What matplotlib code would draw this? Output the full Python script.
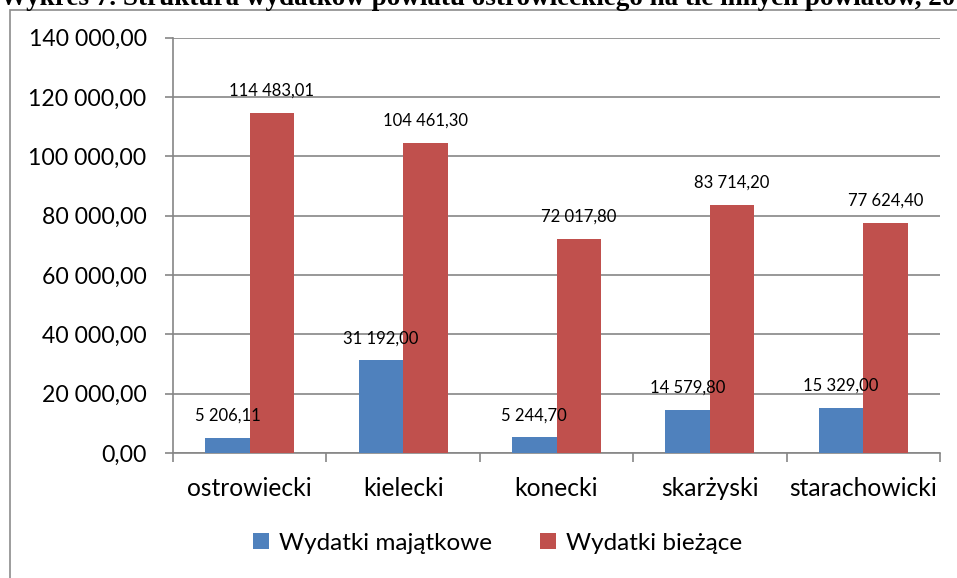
import matplotlib.pyplot as plt
from matplotlib.patches import Rectangle
import numpy as np

# Dane do wykresu
powiaty = ['ostrowiecki', 'kielecki', 'konecki', 'skarżyski', 'starachowicki']
majatkowe = [5206.11, 31192.00, 5244.70, 14579.80, 15329.00]
biezace = [114483.01, 104461.30, 72017.80, 83714.20, 77624.40]
y_ticks = [0, 20000, 40000, 60000, 80000, 100000, 120000, 140000]

blue = '#4F81BD'
red = '#C0504D'
grey = '#868686'


def pl_format(v):
    # polski zapis liczb: spacja jako separator tysięcy, przecinek dziesiętny
    s = f"{v:,.2f}"
    return s.replace(',', ' ').replace('.', ',')


plt.rcParams['font.family'] = ['Lato', 'DejaVu Sans']

fig = plt.figure(figsize=(9.57, 5.78), dpi=100)
ax = fig.add_axes([173 / 957, 1 - 453 / 578, (940 - 173) / 957, (453 - 37.5) / 578])

x = np.arange(len(powiaty))
w = 0.29
b1 = ax.bar(x - w / 2, majatkowe, w, color=blue, label='Wydatki majątkowe', zorder=3)
b2 = ax.bar(x + w / 2, biezace, w, color=red, label='Wydatki bieżące', zorder=3)

for bars in (b1, b2):
    for rect in bars:
        h = rect.get_height()
        ax.annotate(pl_format(h), (rect.get_x() + rect.get_width() / 2, h),
                    xytext=(0, 16), textcoords='offset points',
                    ha='center', va='center', fontsize=12, zorder=4)

ax.set_xlim(-0.5, len(powiaty) - 0.5)
ax.set_ylim(0, 140000)
ax.set_yticks(y_ticks)
ax.set_yticklabels([pl_format(t) for t in y_ticks])
ax.set_xticks(x)
ax.set_xticklabels(powiaty)
ax.set_xticks(np.arange(len(powiaty) + 1) - 0.5, minor=True)

ax.tick_params(axis='x', which='major', length=0, pad=17, labelsize=17.7)
ax.tick_params(axis='x', which='minor', length=6.5, width=1.2, color=grey)
ax.tick_params(axis='y', length=6, width=1.2, color=grey, pad=13, labelsize=16.6)

ax.yaxis.grid(True, color=grey, linewidth=1.2, zorder=0)
for s in ['top', 'right']:
    ax.spines[s].set_visible(False)
for s in ['left', 'bottom']:
    ax.spines[s].set_color(grey)
    ax.spines[s].set_linewidth(1.2)

fig.legend(handles=[b1, b2], loc='center', bbox_to_anchor=(0.52, 1 - 543 / 578),
           ncol=2, frameon=False, fontsize=17.5, handlelength=0.65, handleheight=0.65,
           handletextpad=0.4, columnspacing=2.0)

# ramka wykresu
fig.add_artist(Rectangle((10 / 957, -0.1), 1.2, 1.1 - 10 / 578, transform=fig.transFigure,
                         fill=False, ec='#8c8c8c', lw=1.2))

# tytuł (ucięty u góry)
fig.text(0, 1 - 5 / 578,
         'Wykres 7. Struktura wydatków powiatu ostrowieckiego na tle innych powiatów, 2011',
         family='Liberation Serif', fontweight='bold', fontsize=19.5, va='baseline', ha='left')

fig.savefig('out.png', dpi=100)
